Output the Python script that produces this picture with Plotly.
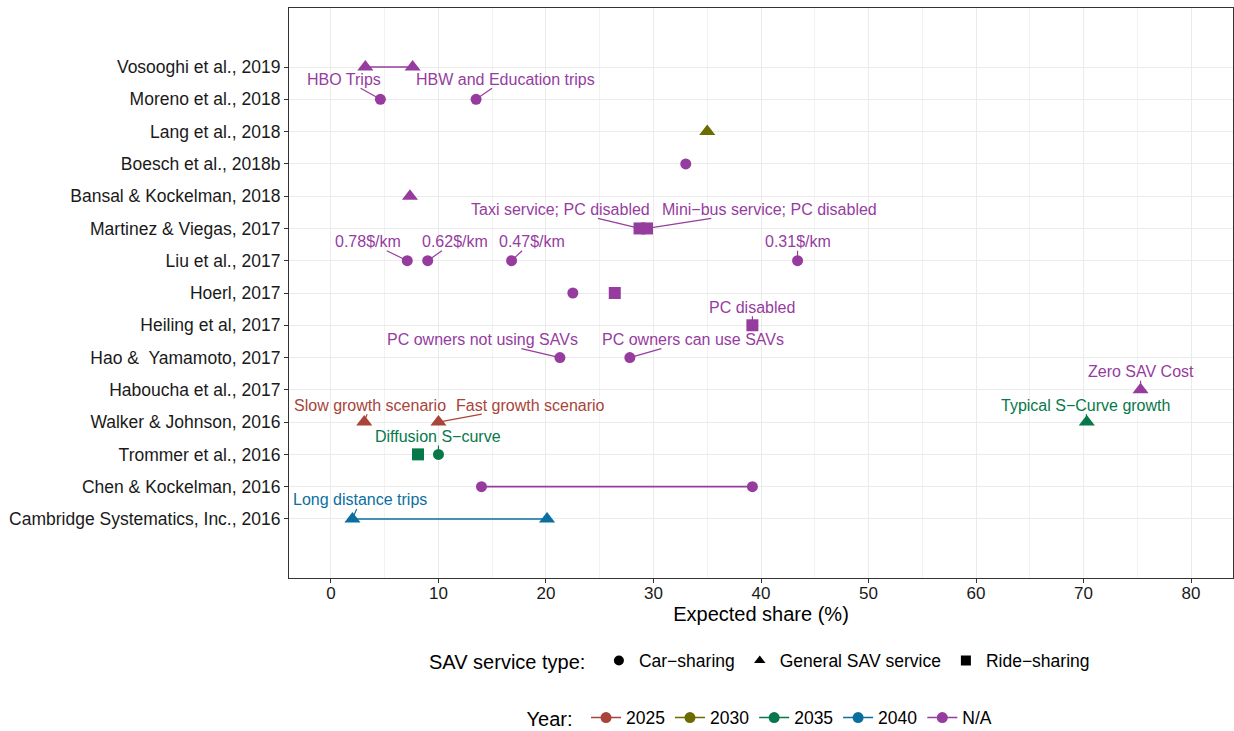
import plotly.graph_objects as go

# Categories bottom -> top
studies = [
    "Cambridge Systematics, Inc., 2016",
    "Chen & Kockelman, 2016",
    "Trommer et al., 2016",
    "Walker & Johnson, 2016",
    "Haboucha et al., 2017",
    "Hao &  Yamamoto, 2017",
    "Heiling et al, 2017",
    "Hoerl, 2017",
    "Liu et al., 2017",
    "Martinez & Viegas, 2017",
    "Bansal & Kockelman, 2018",
    "Boesch et al., 2018b",
    "Lang et al., 2018",
    "Moreno et al., 2018",
    "Vosooghi et al., 2019",
]

# Points
pt_study = [
    "Vosooghi et al., 2019", "Vosooghi et al., 2019",
    "Moreno et al., 2018", "Moreno et al., 2018",
    "Lang et al., 2018",
    "Boesch et al., 2018b",
    "Bansal & Kockelman, 2018",
    "Martinez & Viegas, 2017", "Martinez & Viegas, 2017",
    "Liu et al., 2017", "Liu et al., 2017", "Liu et al., 2017", "Liu et al., 2017",
    "Hoerl, 2017", "Hoerl, 2017",
    "Heiling et al, 2017",
    "Hao &  Yamamoto, 2017", "Hao &  Yamamoto, 2017",
    "Haboucha et al., 2017",
    "Walker & Johnson, 2016", "Walker & Johnson, 2016", "Walker & Johnson, 2016",
    "Trommer et al., 2016", "Trommer et al., 2016",
    "Chen & Kockelman, 2016", "Chen & Kockelman, 2016",
    "Cambridge Systematics, Inc., 2016", "Cambridge Systematics, Inc., 2016",
]
pt_share = [
    3.2, 7.6,
    4.6, 13.5,
    35.0,
    33.0,
    7.35,
    28.7, 29.4,
    7.1, 9.0, 16.8, 43.4,
    22.5, 26.4,
    39.2,
    21.3, 27.8,
    75.3,
    3.1, 10.0, 70.3,
    8.1, 10.0,
    14.0, 39.2,
    2.0, 20.1,
]
pt_type = [
    "General SAV service", "General SAV service",
    "Car-sharing", "Car-sharing",
    "General SAV service",
    "Car-sharing",
    "General SAV service",
    "Ride-sharing", "Ride-sharing",
    "Car-sharing", "Car-sharing", "Car-sharing", "Car-sharing",
    "Car-sharing", "Ride-sharing",
    "Ride-sharing",
    "Car-sharing", "Car-sharing",
    "General SAV service",
    "General SAV service", "General SAV service", "General SAV service",
    "Ride-sharing", "Car-sharing",
    "Car-sharing", "Car-sharing",
    "General SAV service", "General SAV service",
]
pt_year = [
    "N/A", "N/A",
    "N/A", "N/A",
    "2030",
    "N/A",
    "N/A",
    "N/A", "N/A",
    "N/A", "N/A", "N/A", "N/A",
    "N/A", "N/A",
    "N/A",
    "N/A", "N/A",
    "N/A",
    "2025", "2025", "2035",
    "2035", "2035",
    "N/A", "N/A",
    "2040", "2040",
]
pt_label = [
    "", "",
    "HBO Trips", "HBW and Education trips",
    "",
    "",
    "",
    "Taxi service; PC disabled", "Mini\u2212bus service; PC disabled",
    "0.78$/km", "0.62$/km", "0.47$/km", "0.31$/km",
    "", "",
    "PC disabled",
    "PC owners not using SAVs", "PC owners can use SAVs",
    "Zero SAV Cost",
    "Slow growth scenario", "Fast growth scenario", "Typical S\u2212Curve growth",
    "", "Diffusion S\u2212curve",
    "", "",
    "Long distance trips", "",
]
# Label offsets (pixels) for repelled labels
lab_dx = [0, 0, -36, 29, 0, 0, 0, -79, 122, -39, 27, 20, 0, 0, 0, 0, -77, 63, 0, 6, 92, -1, 0, 0, 0, 0, 8, 0]
lab_dy = [0, 0, -20, -20, 0, 0, 0, -19, -19, -19, -19, -19, -19, 0, 0, -18, -18, -18, -18, -17, -17, -17, 0, -18, 0, 0, -19, 0]

# Ranges connected by a line
line_study = ["Vosooghi et al., 2019", "Chen & Kockelman, 2016", "Cambridge Systematics, Inc., 2016"]
line_from = [3.2, 14.0, 2.0]
line_to = [7.6, 39.2, 20.1]
line_year = ["N/A", "N/A", "2040"]

years = ["2025", "2030", "2035", "2040", "N/A"]
year_colors = {"2025": "#A8443A", "2030": "#6B6B00", "2035": "#07784A", "2040": "#0A6F9F", "N/A": "#963C9F"}
types = ["Car-sharing", "General SAV service", "Ride-sharing"]
type_names = {"Car-sharing": "Car\u2212sharing", "General SAV service": "General SAV service", "Ride-sharing": "Ride\u2212sharing"}
type_symbols = {"Car-sharing": "circle", "General SAV service": "triangle-up", "Ride-sharing": "square"}
type_sizes = {"Car-sharing": 11, "General SAV service": 14, "Ride-sharing": 12}

FONT = "Liberation Sans, Arial, sans-serif"

fig = go.Figure()

for s, a, b, yr in zip(line_study, line_from, line_to, line_year):
    fig.add_trace(go.Scatter(x=[a, b], y=[s, s], mode="lines",
                             line=dict(color=year_colors[yr], width=1.6),
                             showlegend=False, hoverinfo="skip"))

for yr in years:
    for t in types:
        idx = [i for i in range(len(pt_share)) if pt_year[i] == yr and pt_type[i] == t]
        if not idx:
            continue
        fig.add_trace(go.Scatter(
            x=[pt_share[i] for i in idx], y=[pt_study[i] for i in idx], mode="markers",
            marker=dict(symbol=type_symbols[t], size=type_sizes[t], color=year_colors[yr],
                        line=dict(width=0)),
            showlegend=False))

# legend: service type
for t in types:
    fig.add_trace(go.Scatter(x=[None], y=[None], mode="markers", name=type_names[t],
                             marker=dict(symbol=type_symbols[t], size=10, color="black"),
                             legend="legend"))
# legend: year
for yr in years:
    fig.add_trace(go.Scatter(x=[None], y=[None], mode="lines+markers", name=yr,
                             line=dict(color=year_colors[yr], width=1.6),
                             marker=dict(symbol="circle", size=11, color=year_colors[yr]),
                             legend="legend2"))

for i, lab in enumerate(pt_label):
    if not lab:
        continue
    c = year_colors[pt_year[i]]
    fig.add_annotation(x=pt_share[i], y=pt_study[i], text=lab, showarrow=True,
                       ax=lab_dx[i], ay=lab_dy[i], arrowhead=0, arrowwidth=1.2,
                       arrowcolor=c, standoff=0, startstandoff=0,
                       font=dict(size=16, color=c, family=FONT),
                       borderpad=0)

fig.update_layout(
    width=1234, height=731,
    margin=dict(l=289, r=1, t=8, b=153, autoexpand=False),
    plot_bgcolor="white", paper_bgcolor="white",
    font=dict(family=FONT, size=16, color="black"),
    xaxis=dict(range=[-3.9, 83.9], tickmode="array", tickvals=[0, 10, 20, 30, 40, 50, 60, 70, 80],
               showgrid=True, gridcolor="#EBEBEB", gridwidth=1.1,
               minor=dict(tickvals=[5, 15, 25, 35, 45, 55, 65, 75], showgrid=True,
                          gridcolor="#F2F2F2", gridwidth=0.6),
               zeroline=False, showline=True, linecolor="#333333", linewidth=1.2, mirror=True,
               ticks="outside", ticklen=4, tickcolor="#333333", ticklabelstandoff=-5,
               tickfont=dict(size=17, color="#1A1A1A"),
               title=dict(text="Expected share (%)", font=dict(size=20, color="black"), standoff=2)),
    yaxis=dict(type="category", categoryorder="array", categoryarray=studies,
               range=[-1.83, 15.83],
               showgrid=True, gridcolor="#EBEBEB", gridwidth=1.1,
               zeroline=False, showline=True, linecolor="#333333", linewidth=1.2, mirror=True,
               ticks="outside", ticklen=4, tickcolor="#333333",
               tickfont=dict(size=17.5, color="#1A1A1A")),
    legend=dict(orientation="h", x=0.5, xanchor="center", y=-0.145, yanchor="middle",
                title=dict(text="SAV service type: ", font=dict(size=20)),
                font=dict(size=17.5), itemwidth=30, bgcolor="rgba(0,0,0,0)"),
    legend2=dict(orientation="h", x=0.5, xanchor="center", y=-0.245, yanchor="middle",
                 title=dict(text="Year: ", font=dict(size=20)),
                 font=dict(size=17.5), itemwidth=30, bgcolor="rgba(0,0,0,0)"),
)

fig.write_html("out.html", config={"displayModeBar": False},
               post_script="document.body.style.margin='0';document.body.style.overflow='hidden';")
